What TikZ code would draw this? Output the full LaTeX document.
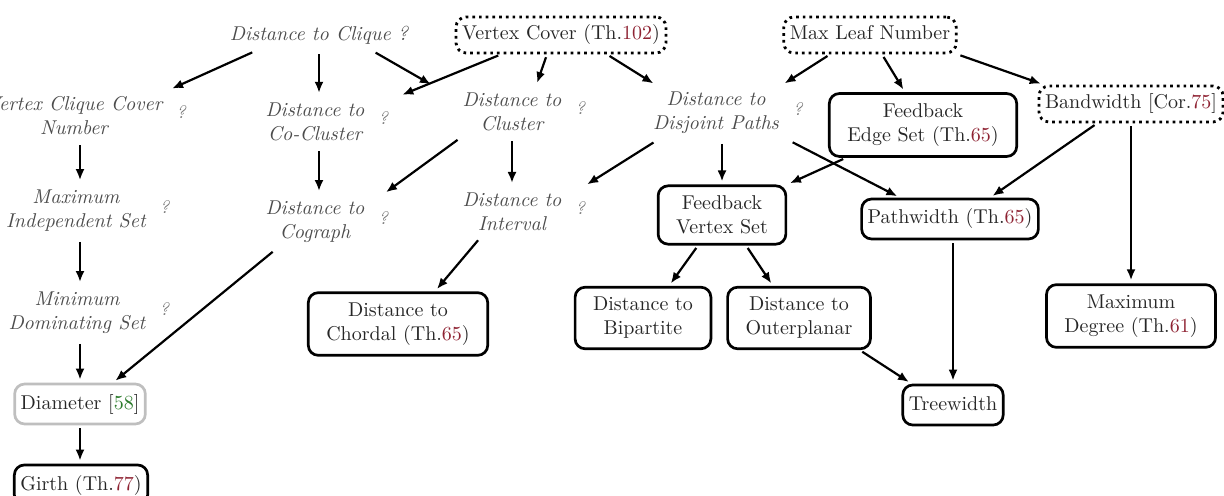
\documentclass[tikz,border=0pt]{standalone}
\usepackage{tikz}
\usetikzlibrary{arrows.meta, positioning, calc}
\definecolor{refred}{HTML}{8E2232}
\definecolor{refgreen}{HTML}{2A7A2A}
\newcommand\refno[1]{\textcolor{refred}{#1}}
\newcommand\refcite[1]{\textcolor{refgreen}{#1}}

\begin{document}
\begin{tikzpicture}[x=0.5pt, y=-0.5pt, font=\normalsize,
      openq/.style={font=\itshape, text=black!70, align=center},
      qm/.style={font=\small\itshape, text=black!55, yshift=2pt},
      resbox/.style={draw, line width=1.35pt, rounded corners=5pt, align=center, text=black!85, inner xsep=9pt, inner ysep=5pt},
      resline/.style={resbox, inner xsep=3pt, text height=7.5pt, text depth=2.5pt},
      dotbox/.style={resline, dotted, line width=1.4pt, inner ysep=4pt},
      greybox/.style={resline, draw=black!25},
      dep/.style={-{Latex[length=5.5pt, width=4.5pt]}, line width=1.1pt, shorten <=1.5pt, shorten >=1.5pt}]
      \useasboundingbox (0,0) rectangle (1224,496);
      \clip (0,0) rectangle (1224,496);
      % top row
      \node[openq] (clique) at (319,35) {Distance to Clique ?};
      \node[dotbox] (vc) at (561,35) {Vertex Cover (Th.\refno{102})};
      \node[dotbox] (ml) at (870,35) {Max Leaf Number};
      % second row
      \node[openq, label={[qm]right:?}] (vccn) at (74,116) {Vertex Clique Cover\\Number};
      \node[openq, label={[qm]right:?}] (cocl) at (315,122) {Distance to\\Co-Cluster};
      \node[openq, label={[qm]right:?}] (clus) at (512,112) {Distance to\\Cluster};
      \node[openq, label={[qm]right:?}] (dis) at (716,113) {Distance to\\Disjoint Paths};
      \node[resbox] (fes) at (923,125) {Feedback\\Edge Set (Th.\refno{65})};
      \node[dotbox] (bw) at (1131,104) {Bandwidth [Cor.\refno{75}]};
      % third row
      \node[openq, label={[qm]right:?}] (mis) at (76,211) {Maximum\\Independent Set};
      \node[openq, label={[qm]right:?}] (cog) at (315,222) {Distance to\\Cograph};
      \node[openq, label={[qm]right:?}] (int) at (512,212) {Distance to\\Interval};
      \node[resbox] (fvs) at (722,215) {Feedback\\Vertex Set};
      \node[resline] (pw) at (950,219) {Pathwidth (Th.\refno{65})};
      % fourth row
      \node[openq, label={[qm]right:?}] (mds) at (77,313) {Minimum\\Dominating Set};
      \node[resbox] (cho) at (398,324) {Distance to\\Chordal (Th.\refno{65})};
      \node[resbox] (bip) at (643,318) {Distance to\\Bipartite};
      \node[resbox] (outer) at (799,318) {Distance to\\Outerplanar};
      \node[resbox] (md) at (1131,316) {Maximum\\Degree (Th.\refno{61})};
      % bottom rows
      \node[greybox] (dia) at (80,404) {Diameter [\refcite{58}]};
      \node[resline] (tw) at (953,405) {Treewidth};
      \node[resline] (girth) at (81,485) {Girth (Th.\refno{77})};
      % edges
      \draw[dep] ([xshift=-32pt]clique.south) -- (vccn.north east);
      \draw[dep] (clique.south) -- (clique.south |- cocl.north);
      \draw[dep] ([xshift=27pt]clique.south) -- ([xshift=-11pt]clus.north west);
      \draw[dep] ([xshift=-7pt]vc.south) -- ([xshift=12pt]clus.north);
      \draw[dep] ([xshift=23pt]vc.south) -- ([xshift=-30pt]dis.north);
      \draw[dep] ([xshift=-30pt]vc.south) -- ([xshift=14pt]cocl.north east);
      \draw[dep] ([xshift=-20pt]ml.south) -- ([xshift=33pt]dis.north);
      \draw[dep] ([xshift=6pt]ml.south) -- ([xshift=-9pt]fes.north);
      \draw[dep] (ml.south east) -- ([xshift=3pt]bw.north west);
      \draw[dep] (vccn.south -| dia.north) -- (mis.north -| dia.north);
      \draw[dep] (cocl.south -| clique.south) -- (cog.north -| clique.south);
      \draw[dep] ([xshift=-26pt]clus.south) -- ([xshift=6pt]cog.north east);
      \draw[dep] (clus.south) -- (int.north);
      \draw[dep] ([xshift=-30pt]dis.south) -- ([xshift=8pt]int.north east);
      \draw[dep] (dis.south -| fvs.north) -- (fvs.north);
      \draw[dep] ([xshift=37pt]dis.south) -- ([xshift=-25pt]pw.north);
      \draw[dep] ([xshift=9pt]fes.south west) -- (fvs.north east);
      \draw[dep] ([xshift=-17pt]bw.south) -- ([xshift=20pt]pw.north);
      \draw[dep] (bw.south) -- (md.north);
      \draw[dep] (mis.south -| dia.north) -- (mds.north -| dia.north);
      \draw[dep] ([xshift=-20pt]cog.south) -- ([xshift=16.5pt]dia.north);
      \draw[dep] ([xshift=-16pt]int.south) -- ([xshift=18.5pt]cho.north);
      \draw[dep] (mds.south -| dia.north) -- (dia.north);
      \draw[dep] ([xshift=-12pt]fvs.south) -- ([xshift=13pt]bip.north);
      \draw[dep] ([xshift=12pt]fvs.south) -- ([xshift=-13pt]outer.north);
      \draw[dep] ([xshift=-6pt]outer.south east) -- ([xshift=5pt]tw.north west);
      \draw[dep] (pw.south -| tw.north) -- (tw.north);
      \draw[dep] (dia.south) -- (dia.south |- girth.north);
    \end{tikzpicture}
\end{document}
